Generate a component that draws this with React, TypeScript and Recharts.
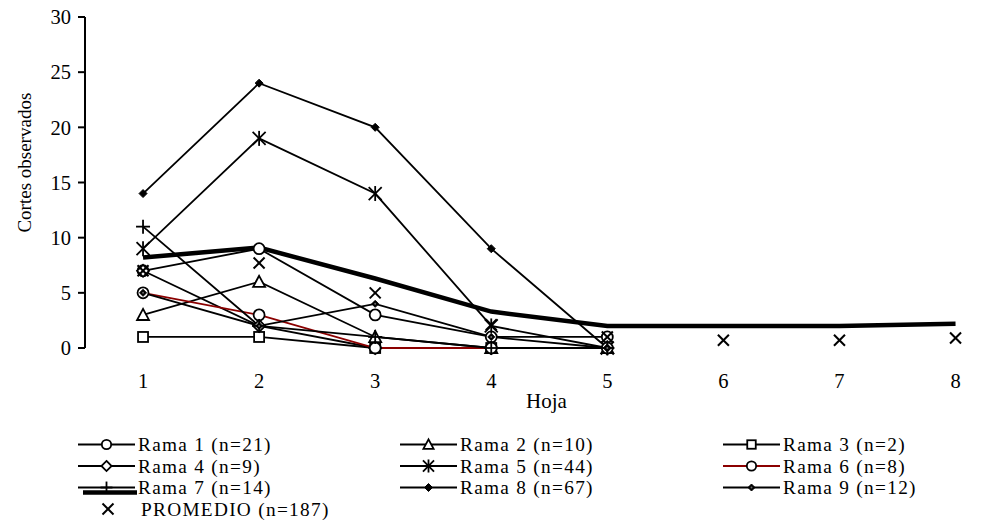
import React from 'react';
import { LineChart, Line, XAxis, YAxis, Legend } from 'recharts';

const hojas = [1, 2, 3, 4, 5, 6, 7, 8];
const yTicks = [0, 5, 10, 15, 20, 25, 30];
const boundaryTicks = [1.5, 2.5, 3.5, 4.5, 5.5, 6.5, 7.5];

const rama1 = [7, 9, 3, 1, 1];
const rama2 = [3, 6, 1, 0, 0];
const rama3 = [1, 1, 0, 0];
const rama4 = [7, 2, 0, 0, 0];
const rama5 = [9, 19, 14, 2, 0];
const rama6 = [5, 3, 0, 0, 0];
const rama7 = [11, 2, 1, 0, 0];
const rama8 = [14, 24, 20, 9, 0];
const rama9 = [5, 2, 4, 1, 0];
const promedio = [7.0, 7.7, 5.0, 2.1, 1.0, 0.7, 0.7, 0.9];
const tendencia = [8.2, 9.1, 6.3, 3.3, 2.0, 2.0, 2.0, 2.2];

const FONT = "'Liberation Serif'";

type Shape = 'circle' | 'triangle' | 'square' | 'diamond' | 'asterisk' | 'plus' | 'smalldiamond' | 'dotdiamond' | 'x';

const series: { key: string; name: string; values: number[]; shape: Shape; color: string }[] = [
  { key: 'r1', name: 'Rama 1 (n=21)', values: rama1, shape: 'circle', color: '#000' },
  { key: 'r2', name: 'Rama 2 (n=10)', values: rama2, shape: 'triangle', color: '#000' },
  { key: 'r3', name: 'Rama 3 (n=2)', values: rama3, shape: 'square', color: '#000' },
  { key: 'r4', name: 'Rama 4 (n=9)', values: rama4, shape: 'diamond', color: '#000' },
  { key: 'r5', name: 'Rama 5 (n=44)', values: rama5, shape: 'asterisk', color: '#000' },
  { key: 'r6', name: 'Rama 6 (n=8)', values: rama6, shape: 'circle', color: '#8b0000' },
  { key: 'r7', name: 'Rama 7 (n=14)', values: rama7, shape: 'plus', color: '#000' },
  { key: 'r8', name: 'Rama 8 (n=67)', values: rama8, shape: 'smalldiamond', color: '#000' },
  { key: 'r9', name: 'Rama 9 (n=12)', values: rama9, shape: 'dotdiamond', color: '#000' },
];

const data = hojas.map((h, i) => {
  const row: any = { hoja: h, prom: promedio[i], tend: tendencia[i] };
  series.forEach((s) => {
    row[s.key] = s.values[i] !== undefined ? s.values[i] : null;
  });
  return row;
});

function Marker({ shape, cx, cy, legend }: { shape: Shape; cx: number; cy: number; legend?: boolean }) {
  const k = legend ? 0.85 : 1;
  const sw = 1.8;
  switch (shape) {
    case 'circle':
      return <circle cx={cx} cy={cy} r={5.5 * k} fill="#fff" stroke="#000" strokeWidth={sw} />;
    case 'triangle': {
      const s = 6 * k;
      return <polygon points={`${cx},${cy - s} ${cx - s},${cy + s * 0.85} ${cx + s},${cy + s * 0.85}`} fill="#fff" stroke="#000" strokeWidth={sw} />;
    }
    case 'square': {
      const s = 5 * k;
      return <rect x={cx - s} y={cy - s} width={2 * s} height={2 * s} fill="#fff" stroke="#000" strokeWidth={sw} />;
    }
    case 'diamond': {
      const s = 6 * k;
      return <polygon points={`${cx},${cy - s} ${cx + s},${cy} ${cx},${cy + s} ${cx - s},${cy}`} fill="#fff" stroke="#000" strokeWidth={sw} />;
    }
    case 'asterisk': {
      const s = 6.5 * k;
      return (
        <g stroke="#000" strokeWidth={sw}>
          <line x1={cx - s} y1={cy - s} x2={cx + s} y2={cy + s} />
          <line x1={cx - s} y1={cy + s} x2={cx + s} y2={cy - s} />
          <line x1={cx} y1={cy - s - 1} x2={cx} y2={cy + s + 1} />
        </g>
      );
    }
    case 'plus': {
      const s = 7 * k;
      return (
        <g stroke="#000" strokeWidth={sw}>
          <line x1={cx - s} y1={cy} x2={cx + s} y2={cy} />
          <line x1={cx} y1={cy - s} x2={cx} y2={cy + s} />
        </g>
      );
    }
    case 'smalldiamond': {
      const s = 4;
      return <polygon points={`${cx},${cy - s} ${cx + s},${cy} ${cx},${cy + s} ${cx - s},${cy}`} fill="#000" stroke="#000" strokeWidth={1} />;
    }
    case 'dotdiamond': {
      const s = 3.5;
      return (
        <g>
          <polygon points={`${cx},${cy - s} ${cx + s},${cy} ${cx},${cy + s} ${cx - s},${cy}`} fill="#000" stroke="#000" strokeWidth={1} />
          <circle cx={cx} cy={cy} r={1} fill="#666" />
        </g>
      );
    }
    case 'x': {
      const s = 5.5;
      return (
        <g stroke="#000" strokeWidth={2}>
          <line x1={cx - s} y1={cy - s} x2={cx + s} y2={cy + s} />
          <line x1={cx - s} y1={cy + s} x2={cx + s} y2={cy - s} />
        </g>
      );
    }
  }
  return null;
}

const makeDot = (shape: Shape, id: string) => (props: any) => {
  const { cx, cy, value, index } = props;
  if (cx == null || cy == null || value == null) return <g key={`${id}-${index}`} />;
  return (
    <g key={`${id}-${index}`}>
      <Marker shape={shape} cx={cx} cy={cy} />
    </g>
  );
};

const legendCols = [78, 400, 723];
const legendRows = [444.5, 466, 487.5, 509];
const LINE_LEN = 57;

const textStyle = { fontFamily: FONT, fontSize: 19.3, letterSpacing: 1.3 };

const LegendContent = () => (
  <svg width={1008} height={521} style={{ position: 'absolute', left: 0, top: 0, pointerEvents: 'none' }}>
    {series.map((s, i) => {
      const x0 = legendCols[i % 3];
      const y = legendRows[Math.floor(i / 3)];
      const cx = x0 + LINE_LEN / 2;
      return (
        <g key={s.key}>
          {s.key === 'r7' && <line x1={x0 + 5} y1={y + 5} x2={x0 + LINE_LEN + 2} y2={y + 5} stroke="#000" strokeWidth={4.5} />}
          <line x1={x0} y1={y} x2={x0 + LINE_LEN} y2={y} stroke={s.color} strokeWidth={1.8} />
          <Marker shape={s.shape} cx={cx} cy={y} legend />
          <text x={x0 + LINE_LEN + 3} y={y + 6.5} style={textStyle} fill="#000">
            {s.name}
          </text>
        </g>
      );
    })}
    <Marker shape="x" cx={108} cy={legendRows[3]} />
    <text x={141} y={legendRows[3] + 6.5} style={textStyle} fill="#000">
      PROMEDIO (n=187)
    </text>
  </svg>
);

const XLabelTick = (props: any) => {
  const { x, y, payload } = props;
  return (
    <text x={x} y={y + 40} textAnchor="middle" style={{ fontFamily: FONT, fontSize: 20.5 }} fill="#000">
      {payload.value}
    </text>
  );
};

export default function App() {
  return (
    <div style={{ width: 1008, height: 521, position: 'relative', fontFamily: FONT }}>
      <style>{`body{margin:0;overflow:hidden;} svg text{font-family:'Liberation Serif';}`}</style>
      <LineChart
        width={1008}
        height={521}
        data={data}
        margin={{ top: 17, right: 0, left: 0, bottom: 113 }}
      >
        <XAxis
          xAxisId="marks"
          dataKey="hoja"
          type="number"
          domain={[0.5, 8.452]}
          allowDataOverflow
          ticks={boundaryTicks}
          interval={0}
          tick={() => null}
          tickSize={6}
          height={0}
          axisLine={{ stroke: '#000', strokeWidth: 2 }}
          tickLine={{ stroke: '#000', strokeWidth: 2 }}
        />
        <XAxis
          xAxisId="labels"
          dataKey="hoja"
          type="number"
          domain={[0.5, 8.452]}
          allowDataOverflow
          ticks={hojas}
          interval={0}
          tick={<XLabelTick />}
          tickSize={0}
          tickMargin={0}
          height={60}
          axisLine={false}
          tickLine={false}
          label={{
            content: (p: any) => {
              const vb = p.viewBox;
              return (
                <text x={vb.x + vb.width / 2} y={vb.y + 60} textAnchor="middle" style={{ fontFamily: FONT, fontSize: 21 }} fill="#000">
                  Hoja
                </text>
              );
            },
          }}
        />
        <YAxis
          type="number"
          domain={[0, 30]}
          ticks={yTicks}
          interval={0}
          width={85}
          tickSize={7}
          tickMargin={7}
          tick={{ fontFamily: FONT, fontSize: 20.5, fill: '#000', style: { fontFamily: FONT } }}
          axisLine={{ stroke: '#000', strokeWidth: 2 }}
          tickLine={{ stroke: '#000', strokeWidth: 2 }}
          label={{
            content: (p: any) => {
              const vb = p.viewBox;
              const cy = vb.y + vb.height * 0.44;
              return (
                <text
                  x={31}
                  y={cy}
                  transform={`rotate(-90 31 ${cy})`}
                  textAnchor="middle"
                  style={{ fontFamily: FONT, fontSize: 19 }}
                  fill="#000"
                >
                  Cortes observados
                </text>
              );
            },
          }}
        />
        {series.map((s) => (
          <Line
            key={s.key}
            xAxisId="labels"
            dataKey={s.key}
            name={s.name}
            type="linear"
            stroke={s.color}
            strokeWidth={1.8}
            dot={makeDot(s.shape, s.key)}
            activeDot={false}
            isAnimationActive={false}
          />
        ))}
        <Line
          xAxisId="labels"
          dataKey="tend"
          type="linear"
          stroke="#000"
          strokeWidth={4.5}
          dot={false}
          activeDot={false}
          legendType="none"
          isAnimationActive={false}
        />
        <Line
          xAxisId="labels"
          dataKey="prom"
          name="PROMEDIO (n=187)"
          type="linear"
          stroke="none"
          dot={makeDot('x', 'prom')}
          activeDot={false}
          isAnimationActive={false}
        />
        <Legend
          layout="vertical"
          align="center"
          verticalAlign="middle"
          content={<LegendContent />}
          wrapperStyle={{ position: 'absolute', left: 0, top: 0, width: 1008, height: 521, pointerEvents: 'none' }}
        />
      </LineChart>
    </div>
  );
}
